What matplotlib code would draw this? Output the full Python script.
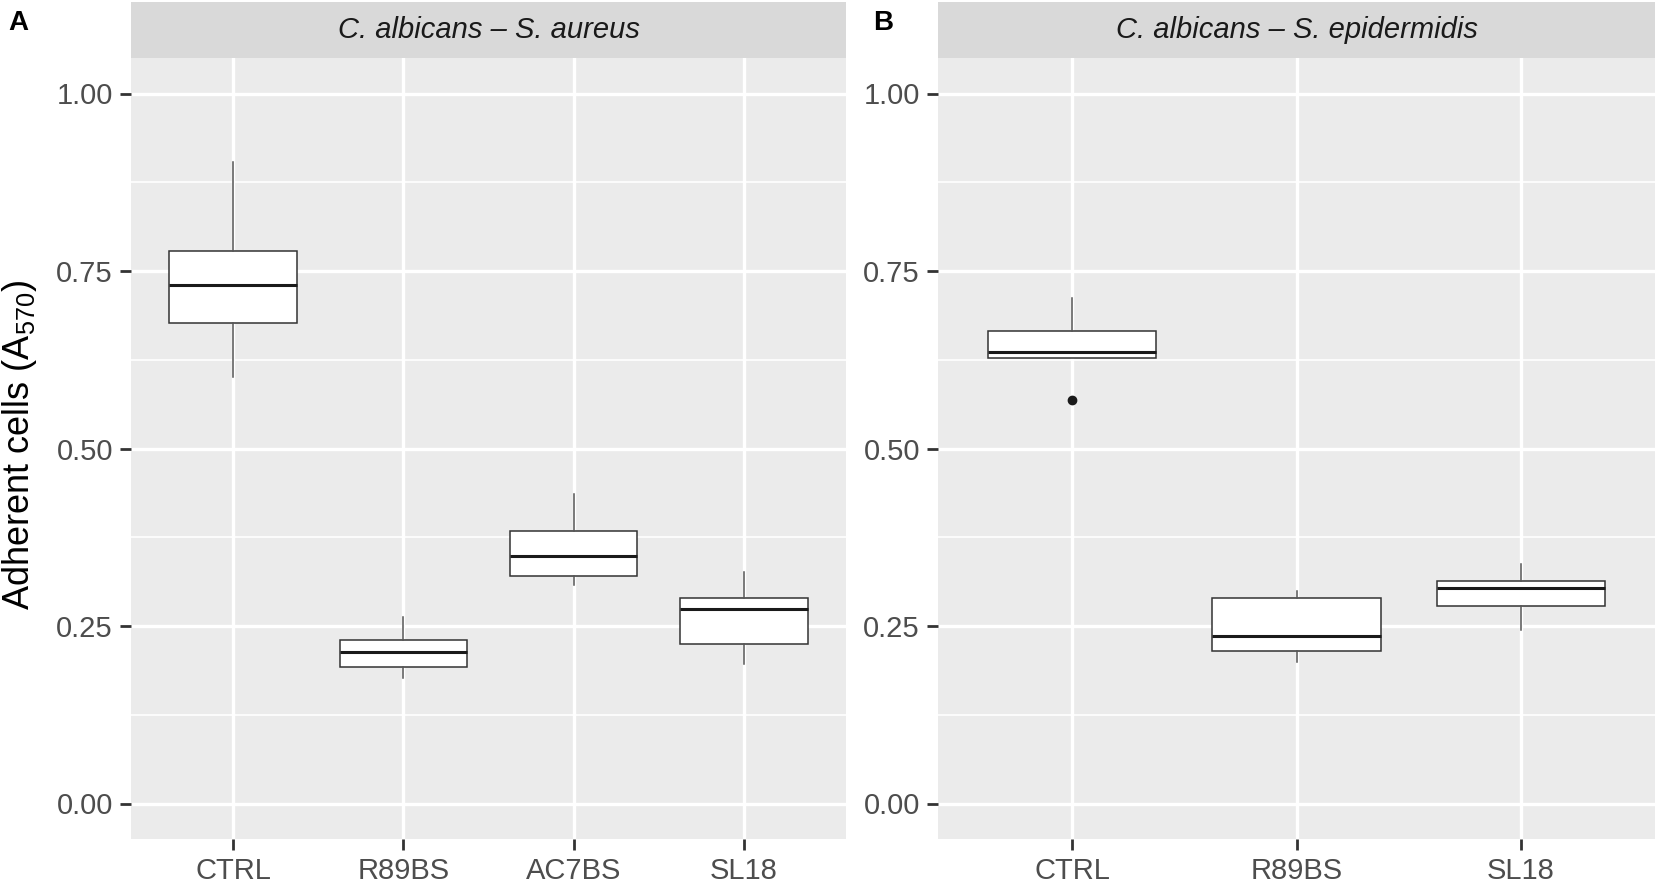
import matplotlib
matplotlib.use("Agg")
import matplotlib.pyplot as plt
from matplotlib.ticker import FixedLocator

plt.rcParams['font.family'] = ['Liberation Sans', 'DejaVu Sans']
plt.rcParams['mathtext.fontset'] = 'custom'
plt.rcParams['mathtext.rm'] = 'Liberation Sans'
plt.rcParams['mathtext.it'] = 'Liberation Sans:italic'

# panel A: C. albicans - S. aureus
groups_a = ["CTRL", "R89BS", "AC7BS", "SL18"]
whislo_a = [0.601, 0.177, 0.308, 0.196]
q1_a = [0.677, 0.192, 0.320, 0.225]
med_a = [0.730, 0.213, 0.349, 0.274]
q3_a = [0.778, 0.230, 0.384, 0.290]
whishi_a = [0.904, 0.263, 0.436, 0.326]
fliers_a = [[], [], [], []]

# panel B: C. albicans - S. epidermidis
groups_b = ["CTRL", "R89BS", "SL18"]
whislo_b = [0.627, 0.199, 0.245]
q1_b = [0.627, 0.215, 0.278]
med_b = [0.636, 0.236, 0.303]
q3_b = [0.665, 0.290, 0.313]
whishi_b = [0.712, 0.299, 0.338]
fliers_b = [[0.568], [], []]

title_a = "C. albicans \u2013 S. aureus"
title_b = "C. albicans \u2013 S. epidermidis"
y_ticks = [0.0, 0.25, 0.5, 0.75, 1.0]
y_labels = ["0.00", "0.25", "0.50", "0.75", "1.00"]
y_minor = [0.125, 0.375, 0.625, 0.875]

W, H = 1655, 883
fig = plt.figure(figsize=(W / 100, H / 100), dpi=100)


def make_stats(groups, lo, q1, med, q3, hi, fl):
    return [dict(label=g, whislo=lo[i], q1=q1[i], med=med[i], q3=q3[i],
                 whishi=hi[i], fliers=fl[i]) for i, g in enumerate(groups)]


def draw_panel(x0, x1, groups, stats, title):
    top, bottom, strip_top = 58, 839, 2
    ax = fig.add_axes([x0 / W, 1 - bottom / H, (x1 - x0) / W, (bottom - top) / H])
    ax.set_facecolor("#EBEBEB")
    ax.set_axisbelow(True)
    for s in ax.spines.values():
        s.set_visible(False)
    n = len(groups)
    pos = list(range(1, n + 1))
    ax.bxp(stats, positions=pos, widths=0.75, patch_artist=True, showcaps=False,
           boxprops=dict(facecolor="white", edgecolor="#333333", linewidth=1.1),
           medianprops=dict(color="#1a1a1a", linewidth=2.2),
           whiskerprops=dict(color="#555555", linewidth=1.1),
           flierprops=dict(marker="o", markerfacecolor="#1a1a1a",
                           markeredgecolor="#1a1a1a", markersize=6))
    ax.set_xlim(0.4, n + 0.6)
    ax.set_ylim(-0.05, 1.05)
    ax.set_xticks(pos)
    ax.set_xticklabels(groups)
    ax.set_yticks(y_ticks)
    ax.set_yticklabels(y_labels)
    ax.yaxis.set_minor_locator(FixedLocator(y_minor))
    ax.grid(which="major", color="white", linewidth=2.4)
    ax.grid(which="minor", axis="y", color="white", linewidth=1.2)
    ax.tick_params(which="major", length=8, width=2, color="#333333",
                   labelsize=21, labelcolor="#4D4D4D", pad=5)
    ax.tick_params(which="minor", length=0)

    sx = fig.add_axes([x0 / W, 1 - top / H, (x1 - x0) / W, (top - strip_top) / H])
    sx.set_facecolor("#D9D9D9")
    sx.set_xticks([])
    sx.set_yticks([])
    for s in sx.spines.values():
        s.set_visible(False)
    sx.text(0.5, 0.5, title, transform=sx.transAxes, ha="center", va="center",
            fontsize=21, style="italic", color="#1A1A1A")
    return ax


draw_panel(131, 846, groups_a,
           make_stats(groups_a, whislo_a, q1_a, med_a, q3_a, whishi_a, fliers_a), title_a)
draw_panel(938, 1655, groups_b,
           make_stats(groups_b, whislo_b, q1_b, med_b, q3_b, whishi_b, fliers_b), title_b)

fig.text(20 / W, 1 - 445 / H, "Adherent cells (A$_{\\mathregular{570}}$)",
         rotation=90, ha="center", va="center", fontsize=26)
fig.text(8 / W, 1 - 23 / H, "A", fontsize=20, fontweight="bold", ha="left", va="center")
fig.text(873 / W, 1 - 23 / H, "B", fontsize=20, fontweight="bold", ha="left", va="center")

fig.savefig("out.png", dpi=100)
